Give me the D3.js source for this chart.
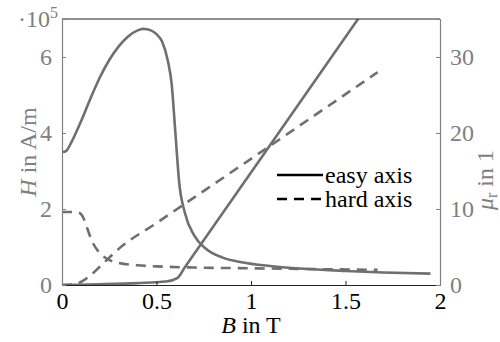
<!DOCTYPE html>
<html>
<head>
<meta charset="utf-8">
<script src="https://cdn.jsdelivr.net/npm/d3@7"></script>
<style>
  body { margin: 0; background: #fff; }
  text { font-family: "Liberation Serif", "Times New Roman", serif; }
</style>
</head>
<body>
<svg id="chart" width="500" height="342"></svg>
<script>
// flux density B in T, field strength H in A/m, relative permeability mu_r
var easyB_H = [0, 0.2, 0.4, 0.55, 0.61, 0.65, 1.0, 1.6];
var easyH   = [0, 2000, 5000, 9000, 18000, 46500, 296000, 724000];

var easyB_mu = [0, 0.02, 0.05, 0.1, 0.15, 0.2, 0.25, 0.3, 0.35, 0.4, 0.43, 0.47, 0.5, 0.53, 0.56, 0.58, 0.6, 0.62, 0.65, 0.7, 0.76, 0.85, 0.95, 1.1, 1.3, 1.5, 1.7, 1.95];
var easyMu   = [17.5, 17.6, 18.8, 21.5, 24.5, 27.3, 29.6, 31.4, 32.7, 33.5, 33.7, 33.5, 33.0, 32.0, 29.5, 26.5, 20, 13.5, 9.5, 6.5, 4.8, 3.6, 3.0, 2.5, 2.1, 1.85, 1.65, 1.5];

var hardB_H = [0, 0.05, 0.1, 0.15, 0.2, 0.25, 0.3, 0.5, 1.0, 1.67];
var hardH   = [0, 1500, 8000, 25000, 48000, 72000, 95000, 163000, 332000, 560000];

var hardB_mu = [0, 0.05, 0.09, 0.11, 0.13, 0.16, 0.2, 0.25, 0.3, 0.4, 0.5, 0.7, 1.0, 1.3, 1.67];
var hardMu   = [9.6, 9.6, 9.5, 9.0, 7.7, 5.7, 4.2, 3.3, 2.9, 2.6, 2.45, 2.3, 2.2, 2.1, 2.0];

var xTicks = [0, 0.5, 1, 1.5, 2];
var hTicks = [0, 2, 4, 6];      // in 1e5 A/m
var muTicks = [0, 10, 20, 30];
var legendLabels = ["easy axis", "hard axis"];

function draw() {
  var svg = d3.select("#chart");
  var pL = 62, pR = 440, pT = 19, pB = 285;
  var grey = "#808080", lineCol = "#6f6f6f";

  var x = d3.scaleLinear().domain([0, 2]).range([pL, pR]);
  var yH = d3.scaleLinear().domain([0, 7e5]).range([pB, pT]);
  var yMu = d3.scaleLinear().domain([0, 35]).range([pB, pT]);

  svg.append("defs").append("clipPath").attr("id", "clip")
    .append("rect").attr("x", pL).attr("y", pT)
    .attr("width", pR - pL).attr("height", pB - pT);

  var plot = svg.append("g").attr("clip-path", "url(#clip)");

  function curve(bs, vs, yScale, dashed) {
    var pts = bs.map(function(b, i){ return [b, vs[i]]; });
    var line = d3.line()
      .x(function(d){ return x(d[0]); })
      .y(function(d){ return yScale(d[1]); })
      .curve(d3.curveMonotoneX);
    plot.append("path")
      .datum(pts)
      .attr("d", line)
      .attr("fill", "none")
      .attr("stroke", lineCol)
      .attr("stroke-width", 2.6)
      .attr("stroke-dasharray", dashed ? "10,7" : null);
  }

  curve(easyB_mu, easyMu, yMu, false);
  curve(hardB_mu, hardMu, yMu, true);
  curve(hardB_H, hardH, yH, true);
  curve(easyB_H, easyH, yH, false);

  // top border
  svg.append("line").attr("x1", pL).attr("x2", pR).attr("y1", pT).attr("y2", pT)
    .attr("stroke", "#222").attr("stroke-width", 1);

  // bottom axis
  var xAxis = svg.append("g").attr("transform", "translate(0," + pB + ")")
    .call(d3.axisBottom(x).tickValues(xTicks).tickSize(-4).tickPadding(7)
      .tickFormat(function(d){ return d; }));
  xAxis.attr("font-family", null);
  xAxis.select(".domain").attr("stroke", "#222");
  xAxis.selectAll(".tick line").attr("stroke", "#222");
  xAxis.selectAll("text").attr("font-size", 24).attr("fill", "#000");

  // left axis
  var yAxisL = svg.append("g").attr("transform", "translate(" + pL + ",0)")
    .call(d3.axisLeft(yH).tickValues(hTicks.map(function(d){ return d * 1e5; }))
      .tickSize(-4).tickPadding(10).tickFormat(function(d){ return d / 1e5; }));
  yAxisL.attr("font-family", null);
  yAxisL.select(".domain").attr("stroke", grey).attr("stroke-width", 1.2);
  yAxisL.selectAll(".tick line").attr("stroke", grey);
  yAxisL.selectAll("text").attr("font-size", 24).attr("fill", grey);

  // right axis
  var yAxisR = svg.append("g").attr("transform", "translate(" + pR + ",0)")
    .call(d3.axisRight(yMu).tickValues(muTicks).tickSize(-4).tickPadding(10));
  yAxisR.attr("font-family", null);
  yAxisR.select(".domain").attr("stroke", grey).attr("stroke-width", 1.2);
  yAxisR.selectAll(".tick line").attr("stroke", grey);
  yAxisR.selectAll("text").attr("font-size", 24).attr("fill", grey);

  // exponent label
  var ex = svg.append("text").attr("x", 58).attr("y", 27).attr("text-anchor", "end")
    .attr("font-size", 24).attr("fill", grey);
  ex.append("tspan").text("\u00b710");
  ex.append("tspan").attr("dy", -9).attr("font-size", 16).text("5");

  // axis titles
  var xt = svg.append("text").attr("x", (pL + pR) / 2).attr("y", 333)
    .attr("text-anchor", "middle").attr("font-size", 24).attr("fill", "#000");
  xt.append("tspan").attr("font-style", "italic").text("B");
  xt.append("tspan").text(" in T");

  var ytl = svg.append("text").attr("transform", "translate(36,152) rotate(-90)")
    .attr("text-anchor", "middle").attr("font-size", 24).attr("fill", grey);
  ytl.append("tspan").attr("font-style", "italic").text("H");
  ytl.append("tspan").text(" in A/m");

  var ytr = svg.append("text").attr("transform", "translate(493,180) rotate(-90)")
    .attr("text-anchor", "middle").attr("font-size", 24).attr("fill", grey);
  ytr.append("tspan").attr("font-style", "italic").text("\u03bc");
  ytr.append("tspan").attr("font-size", 16).attr("dy", 4).text("r");
  ytr.append("tspan").attr("dy", -4).text(" in 1");

  // legend
  legendLabels.forEach(function(lbl, i) {
    var yy = 175 + i * 24;
    svg.append("line").attr("x1", 277).attr("x2", 323).attr("y1", yy).attr("y2", yy)
      .attr("stroke", "#000").attr("stroke-width", 2.6)
      .attr("stroke-dasharray", i === 1 ? "10,7" : null);
    svg.append("text").attr("x", 325).attr("y", yy).attr("dy", "0.32em")
      .attr("font-size", 24).attr("fill", "#000").text(lbl);
  });
}
draw();
</script>
</body>
</html>
